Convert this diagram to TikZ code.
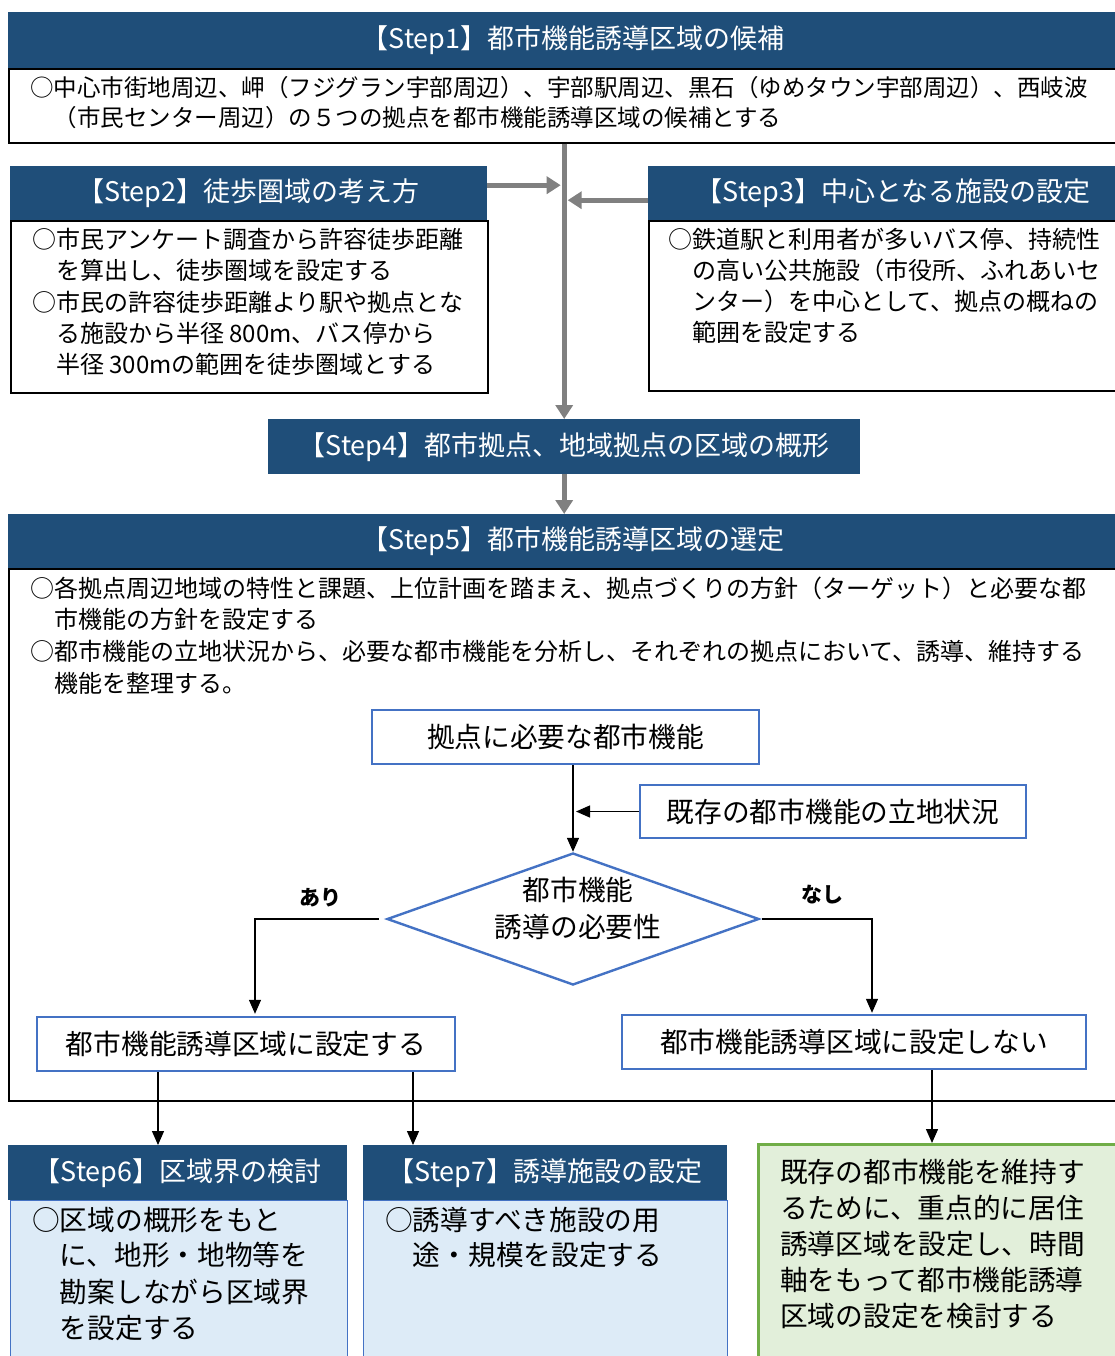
\documentclass[tikz,border=0pt]{standalone}
\usepackage{fontspec}
\setmainfont{Noto Sans CJK JP}
\usetikzlibrary{arrows.meta,shapes.geometric,calc}
\definecolor{hdrblue}{HTML}{1F4E79}
\definecolor{flowblue}{HTML}{4472C4}
\definecolor{arrgray}{HTML}{808080}
\definecolor{lightblue}{HTML}{DDEBF7}
\definecolor{lightgreen}{HTML}{E2EFDA}
\definecolor{grnborder}{HTML}{70AD47}
\newcommand\fsHdr{\fontsize{27}{32}\selectfont}
\newcommand\fsBody{\fontsize{23.5}{28}\selectfont}
\newcommand\fsBodyW{\fontsize{24}{29}\selectfont}
\newcommand\fsBig{\fontsize{27.7}{33}\selectfont}
\newcommand\fsLbl{\fontsize{21}{25}\selectfont\bfseries}
\tikzset{
  hdr/.style={fill=hdrblue, draw=none, text=white, font=\fsHdr, inner sep=0pt, anchor=north west},
  bodybox/.style={draw=black, line width=1.6pt, fill=white, inner sep=0pt, anchor=north west},
  bluebody/.style={draw=flowblue, line width=1.4pt, fill=lightblue, inner sep=0pt, anchor=north west},
  greenbox/.style={draw=grnborder, line width=2.6pt, fill=lightgreen, inner sep=0pt, anchor=north west},
  flowbox/.style={draw=flowblue, line width=2.4pt, fill=white, font=\fsBig, inner sep=0pt},
  decision/.style={diamond, draw=flowblue, line width=2.4pt, fill=white, inner sep=0pt},
  txtA/.style={anchor=west, inner sep=0pt, font=\fsBody, text height=20.6pt, text depth=2.9pt},
  txtW/.style={anchor=west, inner sep=0pt, font=\fsBodyW, text height=21pt, text depth=3pt},
  txtB/.style={anchor=west, inner sep=0pt, font=\fsBig, text height=24.3pt, text depth=3.4pt},
  txtC/.style={anchor=center, inner sep=0pt, font=\fsBig, text height=24.3pt, text depth=3.4pt},
  lbl/.style={anchor=center, inner sep=0pt, font=\fsLbl},
  grayarr/.style={draw=arrgray, line width=5pt, -{Triangle[width=17pt,length=14pt]}},
  farr/.style={draw=black, line width=1.3pt, -{Triangle[width=12pt,length=14pt]}}
}
\begin{document}
\begin{tikzpicture}[x=1pt,y=-1pt]
\useasboundingbox (0,0) rectangle (1115,1356);
\fill[white] (0,0) rectangle (1115,1356);

% Step1
\node[bodybox, minimum width=1130pt, minimum height=74pt] (s1b) at (8,68) {};
\node[hdr, minimum width=1130pt, minimum height=56pt] (s1h) at (8,12) {【Step1】都市機能誘導区域の候補};
\node[txtA] (t1a) at (30,88) {○中心市街地周辺、岬（フジグラン宇部周辺）、宇部駅周辺、黒石（ゆめタウン宇部周辺）、西岐波};
\node[txtA] (t1b) at (30,118) {　（市民センター周辺）の５つの拠点を都市機能誘導区域の候補とする};

% Step2
\node[bodybox, minimum width=477pt, minimum height=172pt] (s2b) at (10,220) {};
\node[hdr, minimum width=477pt, minimum height=54pt] (s2h) at (10,166) {【Step2】徒歩圏域の考え方};
\node[txtW] (t2a) at (32,240) {○市民アンケート調査から許容徒歩距離};
\node[txtW] (t2b) at (32,270) {　を算出し、徒歩圏域を設定する};
\node[txtW] (t2c) at (32,302) {○市民の許容徒歩距離より駅や拠点とな};
\node[txtW] (t2d) at (32,333) {　る施設から半径 800m、バス停から};
\node[txtW] (t2e) at (32,364) {　半径 300mの範囲を徒歩圏域とする};

% Step3
\node[bodybox, minimum width=490pt, minimum height=170pt] (s3b) at (648,220) {};
\node[hdr, minimum width=490pt, minimum height=54pt] (s3h) at (648,166) {【Step3】中心となる施設の設定};
\node[txtW] (t3a) at (668,240) {○鉄道駅と利用者が多いバス停、持続性};
\node[txtW] (t3b) at (668,270) {　の高い公共施設（市役所、ふれあいセ};
\node[txtW] (t3c) at (668,301) {　ンター）を中心として、拠点の概ねの};
\node[txtW] (t3d) at (668,332) {　範囲を設定する};

% Step4
\node[hdr, minimum width=592pt, minimum height=55pt] (s4) at (268,419) {【Step4】都市拠点、地域拠点の区域の概形};

% gray arrows
\draw[grayarr] (s1b.south -| s4.north) -- (s4.north);
\draw[grayarr, shorten >=3.5pt] ([yshift=8pt]s2h.east) -- ([yshift=8pt]s2h.east -| s4.north);
\draw[grayarr, shorten >=3.5pt] ([yshift=-7pt]s3h.west) -- ([yshift=-7pt]s3h.west -| s4.north);

% Step5
\node[bodybox, minimum width=1130pt, minimum height=532pt] (s5b) at (8,568) {};
\node[hdr, minimum width=1130pt, minimum height=54pt] (s5h) at (8,514) {【Step5】都市機能誘導区域の選定};
\draw[grayarr] (s4.south) -- (s4.south |- s5h.north);
\node[txtW] (t5a) at (30,588) {○各拠点周辺地域の特性と課題、上位計画を踏まえ、拠点づくりの方針（ターゲット）と必要な都};
\node[txtW] (t5b) at (30,619) {　市機能の方針を設定する};
\node[txtW] (t5c) at (30,651) {○都市機能の立地状況から、必要な都市機能を分析し、それぞれの拠点において、誘導、維持する};
\node[txtW] (t5d) at (30,683) {　機能を整理する。};

% flow
\node[flowbox, minimum width=387pt, minimum height=54pt] (n1) at (565.5,737) {拠点に必要な都市機能};
\node[flowbox, minimum width=386pt, minimum height=53pt] (n2) at (833,811.5) {既存の都市機能の立地状況};
\node[decision, minimum width=372pt, minimum height=132pt] (d) at (573,919) {};
\node[txtC] (dt1) at (578,890) {都市機能};
\node[txtC] (dt2) at (578,927) {誘導の必要性};
\node[flowbox, minimum width=418pt, minimum height=54pt] (n3) at (246,1044) {都市機能誘導区域に設定する};
\node[flowbox, minimum width=464pt, minimum height=54pt] (n4) at (854,1042) {都市機能誘導区域に設定しない};

\draw[farr] (d.north |- n1.south) -- (d.north);
\draw[farr, shorten >=3pt] (n2.west) -- (n2.west -| d.north);
\draw[farr, shorten >=2pt] ([xshift=-7pt]d.west) -| ([xshift=9pt]n3.north);
\draw[farr, shorten >=1pt] ([xshift=2pt]d.east) -| ([xshift=18pt]n4.north);
\node[lbl] (ari) at (320,898) {あり};
\node[lbl] (nashi) at (822,895) {なし};

% Step6 / Step7 / green
\node[bluebody, minimum width=337pt, minimum height=200pt] (s6b) at (10,1200) {};
\node[hdr, minimum width=339pt, minimum height=55pt] (s6h) at (8,1145) {【Step6】区域界の検討};
\node[bluebody, minimum width=364pt, minimum height=200pt] (s7b) at (363,1200) {};
\node[hdr, minimum width=364pt, minimum height=55pt] (s7h) at (363,1145) {【Step7】誘導施設の設定};
\node[greenbox, minimum width=380pt, minimum height=250pt] (grn) at (757,1143) {};

\draw[farr] ([xshift=-88pt]n3.south) -- ([xshift=-88pt]n3.south |- s6h.north);
\draw[farr] ([xshift=167pt]n3.south) -- ([xshift=167pt]n3.south |- s7h.north);
\draw[farr] ([xshift=78pt]n4.south) -- ([xshift=78pt]n4.south |- grn.north);

\node[txtB] (t6a) at (32,1220) {○区域の概形をもと};
\node[txtB] (t6b) at (32,1255) {　に、地形・地物等を};
\node[txtB] (t6c) at (32,1292) {　勘案しながら区域界};
\node[txtB] (t6d) at (32,1328) {　を設定する};
\node[txtB] (t7a) at (385,1220) {○誘導すべき施設の用};
\node[txtB] (t7b) at (385,1255) {　途・規模を設定する};
\node[txtB] (g1) at (780,1172) {既存の都市機能を維持す};
\node[txtB] (g2) at (780,1208) {るために、重点的に居住};
\node[txtB] (g3) at (780,1244) {誘導区域を設定し、時間};
\node[txtB] (g4) at (780,1280) {軸をもって都市機能誘導};
\node[txtB] (g5) at (780,1316) {区域の設定を検討する};
\end{tikzpicture}
\end{document}
